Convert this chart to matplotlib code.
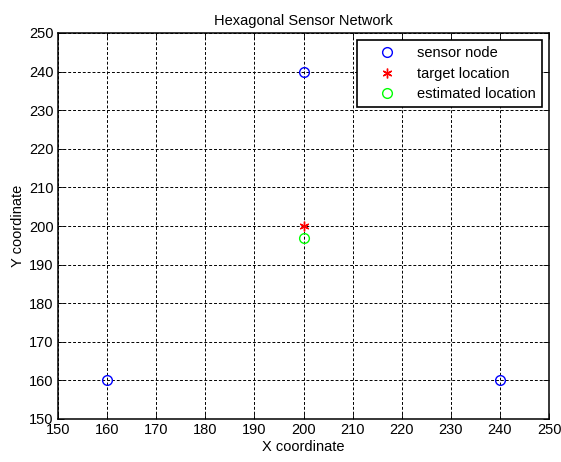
import matplotlib
matplotlib.use("Agg")
import matplotlib.pyplot as plt

plt.rcParams['font.family'] = ['Liberation Sans', 'DejaVu Sans']

sensor_x = [160, 200, 240]
sensor_y = [160, 240, 160]
target_x = [200]
target_y = [200]
est_x = [200]
est_y = [197]
xticks = list(range(150, 251, 10))
yticks = list(range(150, 251, 10))

fig = plt.figure(figsize=(5.61, 4.62), dpi=100)
ax = fig.add_axes([58/561, 1-419/462, (549-58)/561, (419-33)/462])

ax.plot(sensor_x, sensor_y, 'o', mfc='none', mec='blue', ms=7, mew=1, label='sensor node', zorder=3)
ax.plot(target_x, target_y, marker=(6, 2, 0), ls='none', color='red', ms=7, mew=1, label='target location', zorder=3)
ax.plot(est_x, est_y, 'o', mfc='none', mec='#00ff00', ms=7, mew=1, label='estimated location', zorder=3)

ax.set_xlim(150, 250)
ax.set_ylim(150, 250)
ax.set_xticks(xticks)
ax.set_yticks(yticks)
ax.tick_params(direction='in', top=True, right=True, labelsize=10.5, length=4, width=0.6, pad=3)
ax.grid(True, color='black', linestyle=(0, (3, 2)), linewidth=0.7)
for s in ax.spines.values():
    s.set_linewidth(1.1)

ax.set_title('Hexagonal Sensor Network', fontsize=10.5, pad=6)
ax.set_xlabel('X coordinate', fontsize=10.5, labelpad=2)
ax.set_ylabel('Y coordinate', fontsize=10.5, labelpad=3)

leg = ax.legend(loc='upper right', fontsize=10.5, fancybox=False, framealpha=1,
                edgecolor='black', borderaxespad=0.5, handlelength=3.3, borderpad=0.4,
                labelspacing=0.45, handletextpad=0.4)
leg.get_frame().set_linewidth(1.2)

fig.savefig('out.png', dpi=100)
